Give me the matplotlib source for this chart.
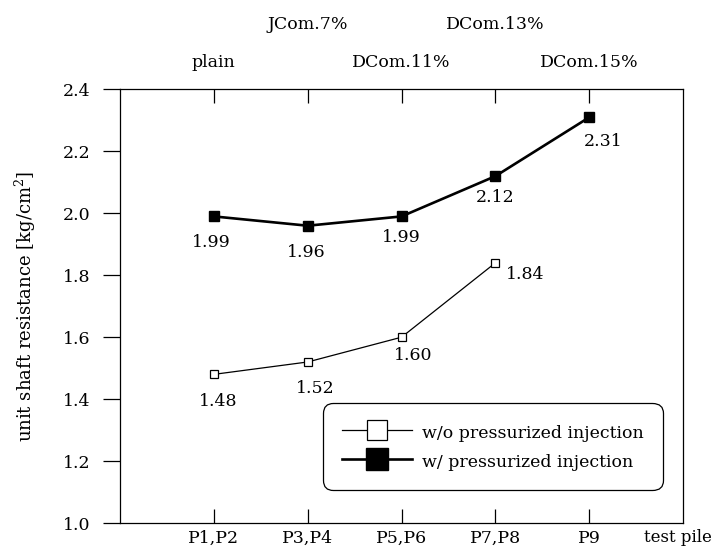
import matplotlib
matplotlib.use('Agg')
import matplotlib.pyplot as plt

plt.rcParams['font.family'] = 'DejaVu Serif'
plt.rcParams['mathtext.fontset'] = 'dejavuserif'

piles = ['P1,P2', 'P3,P4', 'P5,P6', 'P7,P8', 'P9']
mixes = ['plain', 'JCom.7%', 'DCom.11%', 'DCom.13%', 'DCom.15%']
wo_inj = [1.48, 1.52, 1.60, 1.84]
w_inj = [1.99, 1.96, 1.99, 2.12, 2.31]

fs = 12.5

fig = plt.figure(figsize=(7.2, 5.58), dpi=100)
ax = fig.add_axes([0.1667, 0.0627, 0.782, 0.777])

xs = list(range(1, len(piles) + 1))
ax.plot(xs[:len(wo_inj)], wo_inj, color='black', lw=0.9, marker='s',
        ms=6, mfc='white', mec='black', mew=0.9, label='w/o pressurized injection')
ax.plot(xs, w_inj, color='black', lw=1.9, marker='s',
        ms=7, mfc='black', mec='black', label='w/ pressurized injection')

# value labels (offsets in data units)
wo_off = [(0.05, -0.087), (0.08, -0.087), (0.12, -0.058), (0.32, -0.036)]
for i, v in enumerate(wo_inj):
    dx, dy = wo_off[i]
    ax.text(xs[i] + dx, v + dy, '%.2f' % v, ha='center', va='center', fontsize=fs)
w_off = [(-0.03, -0.084), (-0.02, -0.087), (0.0, -0.068), (0.0, -0.068), (0.15, -0.078)]
for i, v in enumerate(w_inj):
    dx, dy = w_off[i]
    ax.text(xs[i] + dx, v + dy, '%.2f' % v, ha='center', va='center', fontsize=fs)

# mix labels above the plot, staggered
for i, m in enumerate(mixes):
    y = 1.062 if i % 2 == 0 else 1.150
    ax.text(xs[i], y, m, transform=ax.get_xaxis_transform(), ha='center',
            va='center', fontsize=fs)

ax.set_xlim(0, 6)
ax.set_ylim(1.0, 2.4)
ax.set_xticks(xs)
ax.set_xticklabels(piles, fontsize=fs)
ax.set_yticks([1.0, 1.2, 1.4, 1.6, 1.8, 2.0, 2.2, 2.4])
ax.set_yticklabels(['1.0', '1.2', '1.4', '1.6', '1.8', '2.0', '2.2', '2.4'], fontsize=fs)
ax.tick_params(axis='x', direction='in', top=True, length=10, width=0.9, pad=5)
ax.tick_params(axis='y', direction='out', length=12, width=0.9, pad=9)
for s in ax.spines.values():
    s.set_linewidth(0.9)
ax.set_ylabel('unit shaft resistance [kg/cm$^2$]', fontsize=13, labelpad=18)
ax.text(0.93, -0.033, 'test pile', transform=ax.transAxes, ha='left',
        va='center', fontsize=12)

leg = ax.legend(loc='lower right', bbox_to_anchor=(0.964, 0.076), borderaxespad=0,
                fontsize=fs, handlelength=4.0, handleheight=1.4, handletextpad=0.6,
                borderpad=1.1, labelspacing=0.5, fancybox=True,
                edgecolor='black', framealpha=1)
leg.get_frame().set_linewidth(0.9)
leg.get_frame().set_boxstyle('round', pad=0, rounding_size=0.6)
leg.legend_handles[0].set_markersize(15)
leg.legend_handles[1].set_markersize(16)

fig.savefig('out.png', dpi=100)
